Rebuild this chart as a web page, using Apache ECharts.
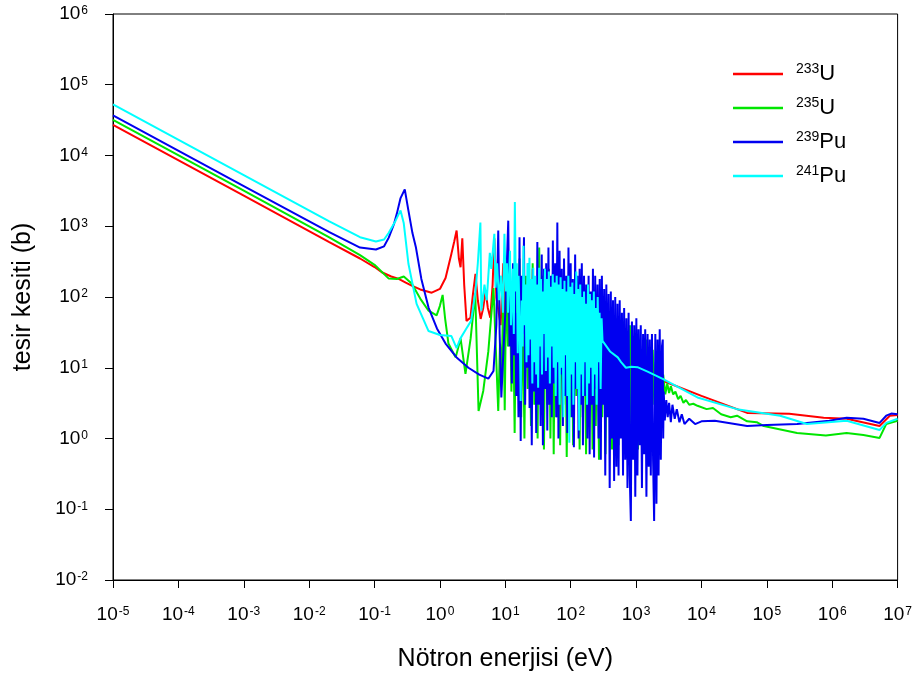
<!DOCTYPE html>
<html>
<head>
<meta charset="utf-8">
<script src="https://cdn.jsdelivr.net/npm/echarts@6/dist/echarts.min.js"></script>
<style>
html,body{margin:0;padding:0;background:#fff;}
#chart{width:915px;height:681px;}
</style>
</head>
<body>
<div id="chart"></div>
<script>
// ---- data (energy eV, cross section b) ----
const isotopeMass = ['233', '235', '239', '241'];
const isotopeElem = ['U', 'U', 'Pu', 'Pu'];
const seriesNames = ['233U', '235U', '239Pu', '241Pu'];
const seriesColors = ['#ff0000', '#00e600', '#0000f0', '#00ffff'];
const xTickExp = ['-5','-4','-3','-2','-1','0','1','2','3','4','5','6','7'];
const yTickExp = ['-2','-1','0','1','2','3','4','5','6'];

const u233 = [[1e-5,2.7e4],[1e-3,2700],[0.02,600],[0.06,350],[0.1,265],[0.129,224],[0.18,195],[0.23,182],[0.3,160],[0.37,145],[0.5,128],[0.75,115],[1.0,130],[1.22,186],[1.5,410],[1.65,600],[1.8,870],[1.95,350],[2.07,263],[2.2,675],[2.35,150],[2.55,46],[2.93,51],[3.2,110],[3.5,213],[3.8,90],[4.2,49],[4.6,70],[5.0,123],[5.4,70],[5.9,51],[6.4,150],[6.8,675],[7.3,97],[8.5,40],[9.3,300],[10,30],[11.5,150],[12.5,20],[14,200],[16,15],[18,120],[20,10],[23,150],[26,12],[30,100],[34,8],[40,80],[46,10],[53,100],[60,8],[70,70],[80,10],[95,60],[110,8],[130,50],[150,10],[180,40],[220,15],[300,24],[500,15],[1000,9.5],[2600,6.5],[1e4,4.0],[5e4,2.3],[2.2e5,2.23],[7.4e5,1.96],[1.66e6,1.9],[5.3e6,1.5],[7.6e6,2.1],[1e7,2.15]];

const u235 = [[1e-5,3.2e4],[1e-3,3200],[0.02,700],[0.06,390],[0.1,285],[0.165,182],[0.22,180],[0.28,195],[0.37,155],[0.5,95],[0.67,64],[0.89,55],[1.0,75],[1.1,107],[1.2,50],[1.35,22],[1.74,14],[2.07,26],[2.46,8.2],[2.95,26],[3.47,112],[3.9,2.45],[4.6,4.7],[5.5,17],[6.6,134],[7.8,2.45],[8.3,22],[8.8,7],[9.3,120],[9.8,2.5],[10.4,260],[11,20],[11.7,190],[12.4,4.6],[13.1,100],[13.9,1.2],[14.7,200],[15.6,8],[16.5,350],[17.5,2],[18.5,90],[19.6,1],[20.8,200],[22,5],[23.3,150],[24.7,1.5],[26.2,300],[27.8,3],[29.4,120],[31.2,1],[33,500],[35,4],[37,200],[39,0.7],[41.5,150],[44,3],[46.5,250],[49,1],[52,180],[55,0.6],[58,200],[61.5,2],[65,150],[69,0.8],[73,120],[77,3],[82,180],[87,0.55],[92,100],[97,2],[103,150],[109,0.8],[115,90],[122,4],[129,120],[137,0.7],[145,80],[153,2],[162,100],[172,0.6],[182,70],[193,3],[204,90],[216,0.7],[229,60],[242,1.5],[256,80],[271,0.5],[287,50],[304,2],[322,60],[341,0.6],[361,45],[382,2.5],[405,55],[429,0.7],[454,40],[481,1.5],[509,50],[539,0.8],[571,35],[605,2],[640,45],[678,0.6],[718,30],[760,1.5],[805,40],[852,0.8],[902,25],[955,1.8],[1010,30],[1070,0.7],[1130,25],[1200,2],[1270,20],[1350,1],[1430,25],[1510,2],[1600,15],[1700,1.5],[1800,18],[1900,3],[2000,12],[2150,2.5],[2300,10],[2450,4],[2600,8],[2800,4.2],[3000,6],[3200,4.4],[3400,5.5],[3700,4.2],[4000,4.6],[4400,3.6],[4800,4.0],[5300,3.2],[5800,3.5],[6500,3.0],[7500,3.1],[8700,2.9],[1.2e4,2.6],[1.5e4,2.7],[2e4,2.2],[2.8e4,2.0],[3.5e4,2.1],[5e4,1.75],[7e4,1.7],[9e4,1.5],[2.9e5,1.2],[8e5,1.1],[1.66e6,1.2],[3e6,1.12],[5.3e6,1.02],[6.7e6,1.6],[1e7,1.78]];

const pu239 = [[1e-5,3.7e4],[1e-3,3700],[0.02,830],[0.06,500],[0.105,469],[0.14,520],[0.165,690],[0.2,1100],[0.22,1520],[0.25,2500],[0.29,3320],[0.33,1660],[0.38,800],[0.43,500],[0.52,180],[0.67,71],[0.9,36],[1.22,22],[1.8,14],[2.73,10],[4,8],[5.5,7],[6.6,9],[7.3,40],[7.8,870],[8.2,30],[8.7,3.8],[9.3,15],[10,60],[10.5,250],[11.1,1200],
[11.6,20],[12.1,80],[12.6,6],[13.1,300],[13.6,15],[14.1,150],[14.7,4],[15.3,60],[15.9,2],[16.5,700],[17.2,0.92],[17.9,200],[18.6,30],[19.3,700],[20.1,3],[20.9,120],[21.7,10],[22.6,300],[23.5,2.7],[24.4,80],[25.4,0.8],[26.4,250],[27.5,4.6],[28.6,150],[29.7,1.2],[30.9,600],[32.1,3],[33.4,100],[34.7,1.5],[36.1,400],[37.6,0.8],[39.1,250],[40.6,5],[42.2,300],[43.9,1.3],[45.7,500],[47.5,3],[49.4,200],[51.4,2],[53.4,630],[55.6,6],[57.8,300],[60.1,2],[62.5,1130],[65.0,1],[67.6,450],[70.3,8],[73.1,250],[76.0,1.5],[79.1,350],[82.2,4],[85.5,200],[88.9,1.2],[92.5,500],[96.2,10],[100,300],[104,2],[108,180],[112,0.75],[117,400],[122,5],[127,200],[132,1],[137,250],[143,3],[148,300],[154,0.8],[160,200],[167,4],[173,150],[180,1],[188,200],[195,0.6],[203,120],[211,3],[219,250],[228,0.54],[237,200],[247,5],[257,150],[267,1],[278,180],[289,0.5],[300,200],[312,3],[325,130],[338,0.3],[351,150],[365,2],[380,110],[395,0.2],[411,120],[427,1],[444,90],[462,0.25],[480,100],[500,0.4],[520,80],[540,0.3],[562,90],[584,1],[608,60],[632,0.3],[657,70],[683,0.5],[711,50],[739,0.2],[769,60],[800,0.3],[832,0.068],[865,45],[900,0.5],[936,40],[973,0.15],[1010,50],[1050,0.3],[1090,35],[1140,0.8],[1180,40],[1230,0.2],[1280,30],[1330,0.6],[1380,35],[1440,0.15],[1500,30],[1560,0.4],[1620,25],[1680,0.3],[1750,30],[1820,0.5],[1890,0.068],[1970,30],[2050,0.12],[2130,25],[2210,0.3],[2300,35],[2390,0.5],[2490,20],[2560,25],[2600,1],
[2650,4.6],[2750,1.8],[2900,3.5],[3050,2.0],[3200,3.2],[3400,1.7],[3600,3.0],[3900,1.9],[4200,2.6],[4600,1.7],[5000,2.2],[5500,1.6],[6500,1.9],[8000,1.6],[1e4,1.75],[1.6e4,1.78],[5e4,1.5],[1e5,1.55],[2.9e5,1.6],[9e5,1.78],[1.66e6,1.96],[3e6,1.9],[5.3e6,1.66],[6.7e6,2.1],[8e6,2.25],[1e7,2.2]];

const pu241 = [[1e-5,5.3e4],[1e-3,5300],[0.02,1180],[0.06,700],[0.105,610],[0.14,650],[0.165,810],[0.21,1200],[0.25,1675],[0.28,1100],[0.33,295],[0.44,80],[0.67,33],[1.0,29],[1.5,28],[1.8,19],[2.06,26],[2.5,35],[3.0,46],[3.5,120],[3.8,300],[4.16,1130],[4.3,64],[4.8,150],[5.2,90],[5.8,420],[6.1,250],[6.8,780],[7.1,135],[7.5,300],[8.0,90],[8.6,200],[9.2,60],[9.7,780],
[10.2,120],[10.6,300],[11.0,60],[11.4,180],[11.8,450],[12.2,40],[12.6,90],[13.0,250],[13.5,30],[14.0,2200],[14.5,120],[15.0,300],[15.5,16],[16.0,200],[16.6,40],[17.2,3.4],[17.8,89],[18.4,20],[19.0,530],[19.7,40],[20.4,150],[21.1,12],[21.8,300],[22.6,15],[23.4,360],[24.2,25],[25.0,180],[25.9,6],[26.8,260],[27.7,12],[28.7,200],[29.7,8],[30.7,150],[31.8,5.2],[32.9,260],[34.0,20],[35.2,180],[36.4,8],[37.7,120],[39.0,30],[40.4,250],[41.8,9],[43.3,180],[44.8,14],[46.4,230],[48.0,6],[49.7,140],[51.4,20],[53.2,210],[55.1,10],[57.0,160],[59.0,4],[61.1,200],[63.2,12],[65.4,150],[67.7,3],[70.1,190],[72.5,10],[75.0,130],[77.6,2],[80.3,170],[83.1,15],[86.0,120],[89.0,4],[92.1,200],[95.3,0.87],[98.6,140],[102,8],[106,160],[110,3],[114,110],[118,12],[122,230],[126,5],[130,130],[135,1.3],[140,150],[145,8],[150,100],[155,4],[160,120],[166,12],[172,80],[178,3],[184,150],[190,6],[197,110],[204,10],[211,90],[218,4],[226,120],[234,8],[242,70],[250,3],[259,100],[268,12],[277,60],[287,5],[297,50],[307,24],
[400,17],[525,14],[590,12],[700,10],[850,10.3],[1050,10.2],[1500,8.8],[2600,6.9],[8700,3.8],[3.5e4,2.6],[1.6e5,2.1],[4.1e5,1.6],[1.66e6,1.78],[5.3e6,1.32],[6.7e6,1.66],[1e7,1.9]];

const seriesData = [u233, u235, pu239, pu241];

const FONT = '"Liberation Sans", Arial, sans-serif';
const chart = echarts.init(document.getElementById('chart'), null, {renderer: 'canvas'});

function expLabel(list) {
  return function (v) {
    const e = String(Math.round(Math.log10(v)));
    const idx = list.indexOf(e);
    return idx < 0 ? '' : '{b|10}{s|' + list[idx] + '}';
  };
}
const tickRich = {
  b: {fontSize: 19, lineHeight: 22, fontFamily: FONT, color: '#000'},
  s: {fontSize: 12, lineHeight: 12, fontFamily: FONT, color: '#000', verticalAlign: 'top', padding: [2, 0, 0, 1]}
};

chart.setOption({
  animation: false,
  backgroundColor: '#fff',
  grid: {left: 113, right: 14, top: 14, bottom: 101, show: true, borderColor: '#000', borderWidth: 1, backgroundColor: 'transparent'},
  legend: {
    orient: 'vertical',
    left: 728,
    top: 57,
    itemWidth: 50,
    itemHeight: 2.5,
    itemGap: 11,
    icon: 'rect',
    data: seriesNames,
    formatter: function (name) {
      const i = seriesNames.indexOf(name);
      return '{s|' + isotopeMass[i] + '}{b|' + isotopeElem[i] + '}';
    },
    textStyle: {
      fontFamily: FONT,
      rich: {
        s: {fontSize: 14, lineHeight: 14, fontFamily: FONT, color: '#000', verticalAlign: 'top', padding: [0, 0, 0, 8]},
        b: {fontSize: 22, lineHeight: 24, fontFamily: FONT, color: '#000'}
      }
    }
  },
  xAxis: {
    type: 'log',
    logBase: 10,
    min: 1e-5,
    max: 1e7,
    interval: 1,
    splitNumber: 12,
    name: 'Nötron enerjisi (eV)',
    nameLocation: 'middle',
    nameGap: 67,
    nameTextStyle: {fontSize: 25, fontFamily: FONT, color: '#000'},
    axisLine: {show: true, onZero: false, lineStyle: {color: '#000', width: 1}},
    axisTick: {show: true, inside: false, length: 8, lineStyle: {color: '#000', width: 1}},
    minorTick: {show: false},
    splitLine: {show: false},
    axisLabel: {margin: 24, formatter: expLabel(xTickExp), rich: tickRich, showMinLabel: true, showMaxLabel: true, hideOverlap: false}
  },
  yAxis: {
    type: 'log',
    logBase: 10,
    min: 1e-2,
    max: 1e6,
    interval: 1,
    splitNumber: 8,
    name: 'tesir kesiti (b)',
    nameLocation: 'middle',
    nameGap: 77,
    nameTextStyle: {fontSize: 25, fontFamily: FONT, color: '#000'},
    axisLine: {show: true, onZero: false, lineStyle: {color: '#000', width: 1}},
    axisTick: {show: true, inside: false, length: 8, lineStyle: {color: '#000', width: 1}},
    minorTick: {show: false},
    splitLine: {show: false},
    axisLabel: {margin: 25, formatter: expLabel(yTickExp), rich: tickRich, showMinLabel: true, showMaxLabel: true}
  },
  series: seriesNames.map(function (name, i) {
    return {
      name: name,
      type: 'line',
      data: seriesData[i],
      showSymbol: false,
      symbol: 'none',
      smooth: false,
      clip: true,
      z: 2 + i,
      lineStyle: {color: seriesColors[i], width: 2},
      itemStyle: {color: seriesColors[i]},
      emphasis: {disabled: true}
    };
  })
});
</script>
</body>
</html>
